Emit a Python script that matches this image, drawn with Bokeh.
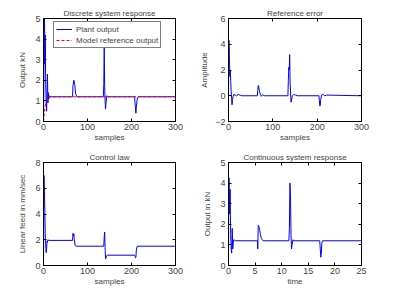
from bokeh.plotting import figure
from bokeh.layouts import gridplot
from bokeh.models import Range1d, FixedTicker, LinearAxis
from bokeh.embed import file_html
from bokeh.resources import INLINE

# ---- discrete system response (samples) ----
plant_n = [0, 1, 2, 3, 4, 5, 6, 7, 8, 9, 10, 11, 12, 14, 16,
           66, 67, 69, 71, 73, 76,
           136, 137, 138, 139, 140, 141, 142, 144, 147,
           207, 208, 210, 211, 213, 215,
           299]
plant_y = [0, 2.4, 6.2, 2.8, 4.2, 1.8, 0.9, 0.5, 1.4, 2.3, 0.9, 1.4, 1.1, 1.25, 1.2,
           1.2, 1.75, 2.0, 1.8, 1.35, 1.2,
           1.2, 1.8, 3.6, 1.7, 1.0, 0.6, 0.9, 1.25, 1.2,
           1.2, 0.9, 0.4, 0.7, 1.1, 1.2,
           1.2]
model_n = [0, 2, 4, 6, 8, 10, 12, 299]
model_y = [0, 0.45, 0.75, 0.95, 1.08, 1.15, 1.2, 1.2]

# ---- reference error ----
err_n = [0, 1, 2, 3, 4, 5, 6, 7, 8, 9, 10, 12, 15, 18, 22, 26, 30,
         65, 66, 67, 68, 70, 72, 74, 77, 80, 84,
         134, 135, 136, 137, 138, 139, 140, 141, 142, 144, 147, 151, 155,
         204, 205, 206, 207, 208, 210, 213, 217, 222,
         299]
err_y = [0.3, 4.3, 3.2, 1.5, 2.0, 1.2, 0.3, -0.2, -0.7, -0.3, -0.1, 0.1, 0.05, 0.0, 0.1, 0.05, 0.0,
         0.0, 0.4, 0.8, 0.75, 0.3, 0.1, -0.05, 0.1, 0.0, 0.0,
         0.0, 1.2, 2.2, 2.0, 3.2, 1.0, 0.3, -0.5, -0.4, 0.0, 0.1, 0.05, 0.0,
         0.0, -0.4, -0.8, -0.75, -0.3, 0.05, 0.1, 0.0, 0.05,
         0.0]

# ---- control law ----
ctrl_n = [0, 1, 2, 3, 4, 5, 6, 7, 8, 9, 10, 12,
          66, 67, 68, 69, 70, 72, 74,
          137, 138, 139, 140, 141, 142, 143, 145,
          207, 208, 209, 210, 211, 213,
          299]
ctrl_u = [0, 7.0, 6.0, 4.2, 2.5, 1.6, 1.0, 1.3, 1.9, 1.8, 2.0, 1.95,
          1.95, 2.5, 2.3, 2.45, 2.0, 1.55, 1.5,
          1.5, 2.2, 2.6, 1.4, 0.5, 0.6, 0.75, 0.8,
          0.8, 0.7, 0.6, 0.65, 1.2, 1.5,
          1.5]

# ---- continuous system response (time) ----
cont_t = [0, 0.05, 0.12, 0.2, 0.3, 0.4, 0.5, 0.6, 0.7, 0.8, 0.9, 1.0, 1.3,
          5.45, 5.5, 5.6, 5.7, 5.85, 6.0, 6.2, 6.5,
          11.35, 11.45, 11.55, 11.65, 11.75, 11.85, 11.95, 12.1, 12.3,
          17.15, 17.25, 17.35, 17.45, 17.55, 17.7,
          24.9]
cont_y = [0, 4.2, 4.25, 2.5, 3.7, 1.5, 0.8, 0.6, 1.8, 0.8, 1.1, 1.25, 1.2,
          1.2, 0.8, 1.95, 1.9, 1.75, 1.5, 1.3, 1.2,
          1.2, 1.8, 4.0, 3.5, 1.5, 0.8, 1.0, 1.25, 1.2,
          1.2, 0.8, 0.4, 0.6, 1.1, 1.2,
          1.2]

FONT = "Liberation Sans"
BLUE = "#0000ff"


def panel(title, xlabel, ylabel, xr, yr, xticks, yticks, left, right, ylab_standoff):
    p = figure(width=197, height=144, output_backend="svg", toolbar_location=None,
               x_range=Range1d(*xr), y_range=Range1d(*yr), title=title,
               min_border_left=left, min_border_right=right,
               min_border_top=18, min_border_bottom=21)
    p.grid.visible = False
    p.outline_line_color = "black"
    p.outline_line_width = 1
    p.title.text_font = FONT
    p.title.text_font_size = "8px"
    p.title.text_font_style = "normal"
    p.title.align = "center"
    p.title.standoff = 2
    p.xaxis.ticker = FixedTicker(ticks=xticks)
    p.yaxis.ticker = FixedTicker(ticks=yticks)
    p.xaxis.axis_label = xlabel
    p.yaxis.axis_label = ylabel
    p.xaxis.axis_label_standoff = 0
    p.yaxis.axis_label_standoff = ylab_standoff
    p.xaxis.major_label_standoff = 2
    p.yaxis.major_label_standoff = 3
    for ax in (p.xaxis[0], p.yaxis[0]):
        ax.axis_line_color = "black"
        ax.major_tick_line_color = "black"
        ax.major_tick_in = 3
        ax.major_tick_out = 0
        ax.minor_tick_line_color = None
        ax.major_label_text_font = FONT
        ax.major_label_text_font_size = "9px"
        ax.axis_label_text_font = FONT
        ax.axis_label_text_font_size = "8px"
        ax.axis_label_text_font_style = "normal"
    # mirrored ticks on the right and top edges of the box (no labels)
    for loc, ticks in (("right", yticks), ("above", xticks)):
        ax = LinearAxis(ticker=FixedTicker(ticks=ticks),
                        major_label_overrides={t: "" for t in ticks},
                        major_label_text_color=None, major_label_text_font_size="1px",
                        major_label_standoff=0, major_tick_in=3, major_tick_out=0,
                        minor_tick_line_color=None, axis_line_color=None,
                        major_tick_line_color="black")
        p.add_layout(ax, loc)
    return p


p1 = panel("Discrete system response", "samples", "Output kN", (0, 300), (0, 5),
           [0, 100, 200, 300], [0, 1, 2, 3, 4, 5], 43, 22, 5)
p1.line(plant_n, plant_y, color=BLUE, line_width=1, legend_label="Plant output")
p1.line(model_n, model_y, color="#ff0000", line_width=1, line_dash="3 2",
        legend_label="Model reference output")
lg = p1.legend[0]
lg.location = (10, 73)
lg.border_line_color = "black"
lg.border_line_width = 1
lg.background_fill_alpha = 1
lg.label_text_font = FONT
lg.label_text_font_size = "8px"
lg.label_height = 10
lg.glyph_height = 10
lg.glyph_width = 16
lg.label_standoff = 4
lg.padding = 2
lg.spacing = 1
lg.margin = 0

p2 = panel("Reference error", "samples", "Amplitude", (0, 300), (-2, 6),
           [0, 100, 200, 300], [-2, 0, 2, 4, 6], 29, 33, 3)
p2.line(err_n, err_y, color=BLUE, line_width=1)

p3 = panel("Control law", "samples", "Linear feed in mm/sec", (0, 300), (0, 8),
           [0, 100, 200, 300], [0, 2, 4, 6, 8], 43, 22, 5)
p3.line(ctrl_n, ctrl_u, color=BLUE, line_width=1)

p4 = panel("Continuous system response", "time", "Output in kN", (0, 25), (0, 5),
           [0, 5, 10, 15, 20, 25], [0, 1, 2, 3, 4, 5], 29, 33, 5)
p4.line(cont_t, cont_y, color=BLUE, line_width=1)

grid = gridplot([[p1, p2], [p3, p4]], toolbar_location=None)

open("out.html", "w").write(file_html(grid, INLINE))
